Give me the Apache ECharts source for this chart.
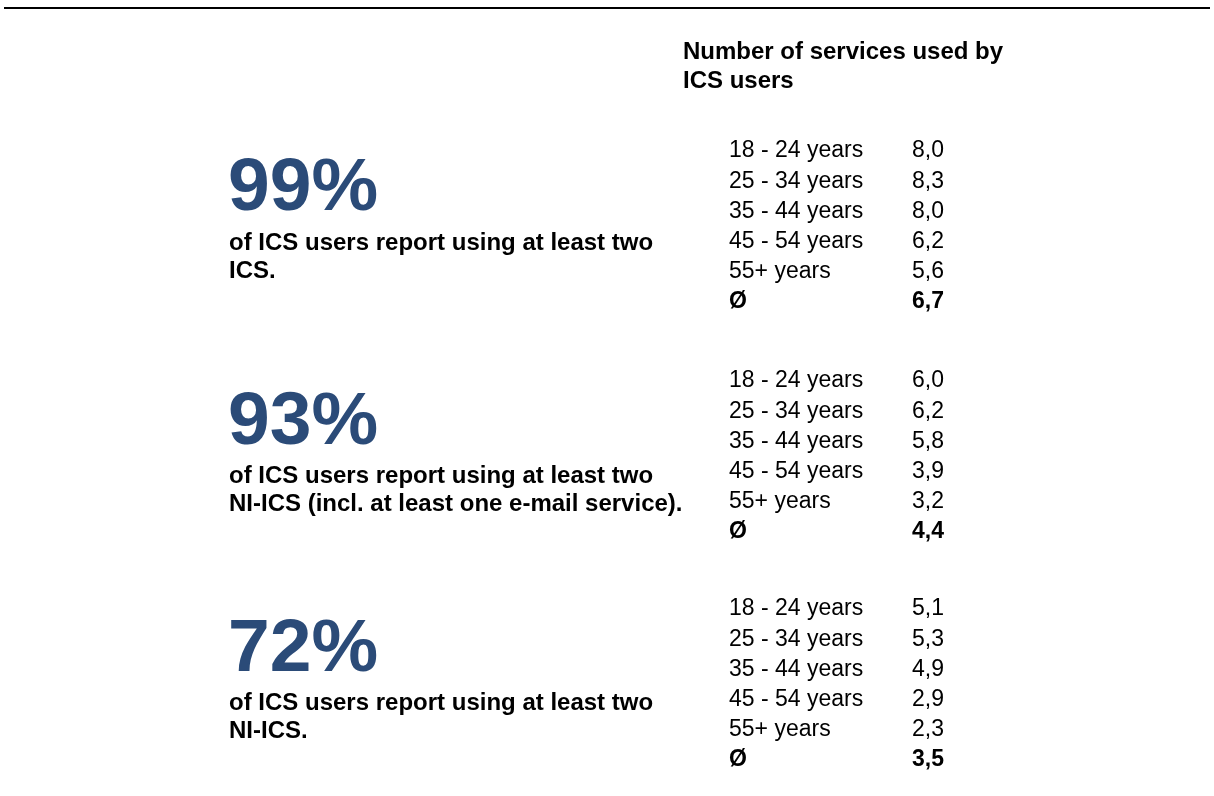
<!DOCTYPE html>
<html>
<head>
<meta charset="utf-8">
<script src="https://cdn.jsdelivr.net/npm/echarts@6/dist/echarts.min.js"></script>
<style>
  html, body { margin: 0; padding: 0; background: #fff; }
  #main { width: 1214px; height: 796px; }
</style>
</head>
<body>
<div id="main"></div>
<script>
// values
const ageGroups = ['18 - 24 years', '25 - 34 years', '35 - 44 years', '45 - 54 years', '55+ years', 'Ø'];
const servicesIcs = [8.0, 8.3, 8.0, 6.2, 5.6, 6.7];
const servicesNiIcsMail = [6.0, 6.2, 5.8, 3.9, 3.2, 4.4];
const servicesNiIcs = [5.1, 5.3, 4.9, 2.9, 2.3, 3.5];
const shares = [99, 93, 72];
const statements = [
  'of ICS users report using at least two\nICS.',
  'of ICS users report using at least two\nNI-ICS (incl. at least one e-mail service).',
  'of ICS users report using at least two\nNI-ICS.'
];
const headline = 'Number of services used by\nICS users';

const groups = [servicesIcs, servicesNiIcsMail, servicesNiIcs];

// layout
const font = '"Liberation Sans", Arial, sans-serif';
const blue = '#2b4b78';
const rowH = 30.2;
const tableTop = [136, 366, 594];
const shareTop = [151.5, 386, 613];
const textTop = [229, 462, 689];

const chart = echarts.init(document.getElementById('main'), null, { renderer: 'canvas' });

const fmt = v => v.toFixed(1).replace('.', ',');

const title = [{
  text: headline,
  left: 683,
  top: 38,
  padding: 0,
  textStyle: { fontFamily: font, fontSize: 24, fontWeight: 'bold', color: '#000', lineHeight: 29 }
}];
const grid = [], xAxis = [], yAxis = [], series = [];

groups.forEach((vals, g) => {
  title.push({
    text: shares[g] + '%',
    left: 228,
    top: shareTop[g],
    padding: 0,
    textStyle: { fontFamily: font, fontSize: 75, fontWeight: 'bold', color: blue, lineHeight: 75 }
  });
  title.push({
    text: statements[g],
    left: 229,
    top: textTop[g],
    padding: 0,
    textStyle: { fontFamily: font, fontSize: 24, fontWeight: 'bold', color: '#000', lineHeight: 28.5 }
  });

  grid.push({ left: 912, top: tableTop[g], width: 120, height: rowH * ageGroups.length });
  xAxis.push({ type: 'value', gridIndex: g, min: 0, max: 10, show: false });
  yAxis.push({
    type: 'category',
    gridIndex: g,
    inverse: true,
    data: ageGroups,
    axisLine: { show: false },
    axisTick: { show: false },
    splitLine: { show: false },
    axisLabel: {
      align: 'left',
      margin: 183,
      fontFamily: font,
      fontSize: 23,
      color: '#000',
      formatter: (v, i) => i === ageGroups.length - 1 ? '{b|' + v + '}' : v,
      rich: { b: { fontFamily: font, fontSize: 23, fontWeight: 'bold', color: '#000' } }
    }
  });
  series.push({
    type: 'bar',
    xAxisIndex: g,
    yAxisIndex: g,
    data: vals,
    barWidth: 20,
    silent: true,
    itemStyle: { color: 'rgba(0,0,0,0)' },
    label: {
      show: true,
      position: 'insideLeft',
      distance: 0,
      fontFamily: font,
      fontSize: 23,
      color: '#000',
      formatter: p => p.dataIndex === ageGroups.length - 1 ? '{b|' + fmt(p.value) + '}' : fmt(p.value),
      rich: { b: { fontFamily: font, fontSize: 23, fontWeight: 'bold', color: '#000' } }
    }
  });
});

chart.setOption({
  animation: false,
  backgroundColor: '#fff',
  title: title,
  grid: grid,
  xAxis: xAxis,
  yAxis: yAxis,
  series: series,
  graphic: [{
    type: 'line',
    shape: { x1: 4, y1: 8, x2: 1210, y2: 8 },
    style: { stroke: '#000', lineWidth: 2 }
  }]
});
</script>
</body>
</html>
